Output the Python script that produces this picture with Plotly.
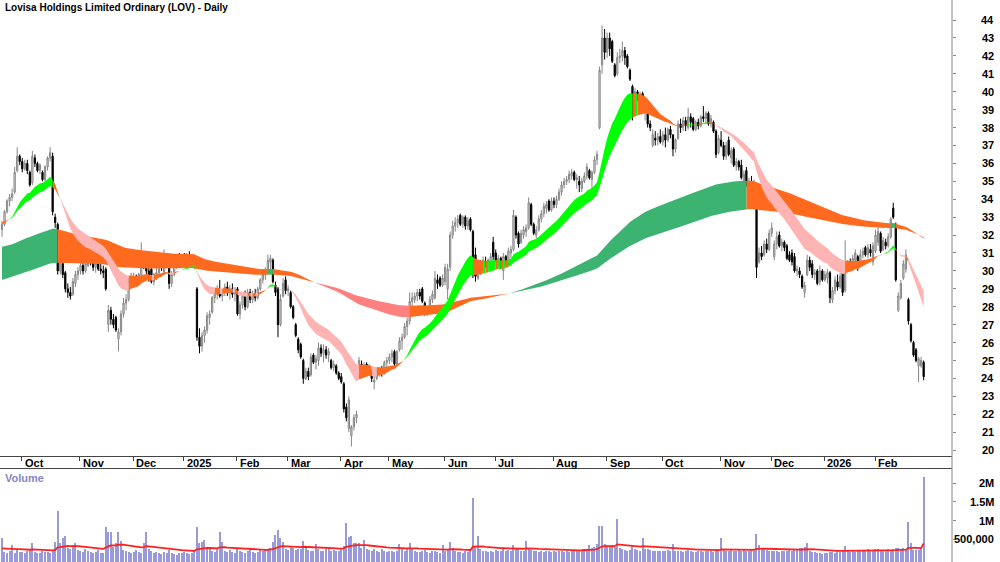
import numpy as np
import pandas as pd
import plotly.graph_objects as go

TITLE = "Lovisa Holdings Limited Ordinary (LOV) - Daily"

HOLIDAYS = ["2024-12-25", "2024-12-26", "2025-01-01", "2025-01-27", "2025-04-18",
            "2025-04-21", "2025-04-25", "2025-06-09", "2025-12-25", "2025-12-26",
            "2026-01-01", "2026-01-26"]
dates = pd.bdate_range("2024-09-19", "2026-02-27")
dates = dates[~dates.isin(pd.to_datetime(HOLIDAYS))]

opens = [
    32.3, 32.6, 33.3, 33.9, 34.1, 34.4, 35.6, 36.4, 36.1, 35.7,
    36.0, 35.5, 34.9, 36.3, 36.0, 35.6, 35.5, 35.1, 35.8, 36.3,
    36.4, 33.0, 32.6, 30.0, 30.4, 29.9, 29.0, 28.8, 28.7, 29.3,
    29.8, 30.0, 30.3, 30.0, 30.3, 30.8, 30.5, 30.2, 30.4, 30.1,
    30.0, 30.1, 27.0, 27.8, 27.3, 27.4, 26.2, 26.6, 27.6, 28.2,
    28.4, 29.4, 29.5, 29.6, 29.3, 29.8, 30.6, 30.5, 30.0, 30.1,
    29.4, 29.8, 29.9, 30.3, 29.9, 30.8, 30.4, 29.3, 29.8, 30.3,
    30.7, 30.5, 30.8, 30.6, 30.9, 30.6, 30.4, 29.0, 26.3, 25.8,
    26.4, 26.7, 27.4, 27.7, 28.5, 28.7, 28.9, 28.6, 28.9, 29.1,
    28.8, 29.0, 28.7, 29.0, 27.6, 28.1, 28.6, 28.0, 28.8, 28.4,
    28.7, 28.5, 29.0, 29.5, 29.8, 29.9, 30.5, 30.6, 29.2, 29.0,
    27.0, 28.6, 29.5, 28.9, 28.8, 28.0, 27.0, 26.2, 25.9, 25.0,
    24.0, 24.4, 24.2, 25.3, 24.9, 25.0, 25.7, 25.4, 25.6, 25.3,
    25.0, 24.6, 24.7, 24.3, 24.1, 23.7, 22.4, 21.2, 20.8, 21.3,
    21.8, 24.3, 24.8, 24.5, 24.8, 24.4, 24.3, 23.8, 24.0, 24.3,
    24.5, 24.3, 24.9, 25.0, 25.2, 25.5, 24.8, 25.6, 26.1, 26.3,
    26.9, 27.2, 28.3, 28.4, 28.6, 28.8, 29.0, 28.2, 27.6, 28.0,
    28.4, 28.5, 29.5, 29.6, 29.2, 29.4, 29.0, 30.2, 32.0, 32.5,
    32.7, 33.1, 32.6, 33.0, 32.5, 32.9, 32.2, 30.9, 29.6, 30.2,
    30.1, 30.5, 30.4, 30.5, 31.6, 31.0, 30.6, 30.7, 30.0, 30.8,
    30.4, 31.0, 31.2, 33.0, 32.1, 31.6, 32.0, 32.2, 32.4, 33.7,
    32.6, 32.0, 32.3, 32.9, 33.2, 33.5, 33.9, 33.4, 33.9, 33.7,
    34.0, 34.4, 34.8, 35.0, 35.1, 35.3, 35.5, 35.1, 35.0, 34.6,
    35.0, 35.3, 35.6, 35.1, 35.5, 36.2, 38.0, 41.5, 43.0, 42.2,
    43.0, 42.8, 41.5, 41.0, 41.9, 42.0, 42.3, 42.0, 41.2, 40.3,
    39.8, 40.0, 39.7, 39.9, 39.0, 39.0, 38.2, 37.0, 37.4, 37.3,
    37.5, 37.2, 37.6, 37.3, 37.9, 37.6, 36.8, 37.4, 38.2, 38.0,
    38.4, 38.0, 38.6, 38.5, 37.9, 38.3, 38.1, 38.6, 38.5, 38.8,
    38.2, 38.3, 37.8, 36.6, 37.3, 37.0, 36.4, 37.3, 36.3, 36.8,
    35.9, 36.1, 35.9, 35.0, 35.6, 34.6, 34.9, 34.3, 34.0, 30.5,
    31.0, 30.9, 31.5, 31.2, 32.1, 30.8, 31.5, 32.0, 31.4, 31.6,
    31.4, 30.9, 31.0, 30.8, 30.0, 30.0, 29.7, 28.8, 29.8, 30.6,
    30.4, 29.8, 30.0, 29.4, 30.0, 29.5, 29.6, 29.9, 28.4, 28.9,
    29.4, 29.1, 29.9, 28.9, 30.3, 30.5, 30.1, 30.6, 30.8, 30.3,
    30.9, 31.3, 30.9, 31.2, 30.5, 31.1, 31.6, 32.1, 31.2, 31.6,
    31.4, 31.9, 33.5, 32.6, 27.8, 28.5, 29.6, 30.1, 28.4, 27.0,
    26.0, 25.6, 24.7, 24.7, 24.9,
]
highs = [
    32.8, 33.4, 34.0, 34.3, 34.6, 35.8, 36.9, 36.5, 36.3, 36.2,
    36.2, 35.6, 36.7, 36.5, 36.1, 36.0, 35.6, 35.9, 36.4, 36.9,
    36.6, 33.2, 32.7, 30.9, 30.6, 30.0, 29.3, 29.1, 29.6, 30.0,
    30.2, 30.5, 30.5, 30.6, 31.0, 31.1, 30.9, 30.6, 30.7, 30.4,
    30.3, 30.2, 28.1, 28.0, 27.6, 27.5, 26.8, 27.8, 28.5, 28.7,
    29.6, 29.9, 29.9, 29.8, 29.9, 31.6, 30.9, 30.8, 30.3, 30.3,
    29.9, 30.2, 30.6, 30.7, 31.2, 31.0, 30.5, 30.0, 30.5, 30.9,
    31.0, 30.9, 31.0, 31.0, 31.1, 30.9, 30.8, 29.1, 26.8, 26.6,
    26.9, 27.7, 27.8, 28.6, 28.9, 29.2, 29.5, 29.0, 29.3, 29.4,
    29.2, 29.3, 29.1, 29.1, 28.3, 28.8, 28.9, 29.0, 29.0, 28.9,
    29.0, 29.1, 29.6, 30.0, 30.2, 30.9, 30.9, 30.7, 29.4, 29.1,
    28.7, 29.6, 29.7, 29.2, 28.9, 28.1, 27.1, 26.3, 26.0, 25.1,
    24.6, 24.6, 25.4, 25.4, 25.3, 26.0, 25.9, 25.9, 25.8, 25.7,
    25.1, 25.0, 24.8, 24.4, 24.3, 23.8, 22.6, 23.0, 21.4, 22.0,
    22.2, 25.2, 25.0, 24.9, 24.9, 24.8, 24.5, 24.2, 24.6, 24.6,
    24.7, 25.0, 25.2, 25.4, 25.6, 25.6, 25.6, 26.3, 26.5, 27.1,
    27.4, 28.8, 28.8, 28.8, 29.0, 29.0, 29.1, 28.3, 28.0, 28.6,
    28.9, 30.0, 29.8, 29.7, 29.8, 30.4, 30.4, 32.2, 32.8, 33.0,
    33.1, 33.2, 33.1, 33.1, 33.0, 33.0, 32.3, 31.3, 30.5, 30.6,
    30.8, 30.8, 30.7, 31.0, 31.9, 31.2, 30.9, 30.8, 31.0, 30.9,
    31.3, 31.4, 33.4, 33.1, 32.2, 32.3, 32.5, 32.6, 34.1, 33.8,
    32.7, 32.5, 33.1, 33.4, 33.8, 33.9, 34.0, 34.1, 34.1, 34.2,
    34.6, 35.0, 35.2, 35.3, 35.6, 35.7, 35.6, 35.4, 35.3, 35.2,
    35.5, 36.0, 35.7, 35.6, 36.4, 36.7, 41.4, 43.7, 43.5, 43.3,
    43.3, 42.9, 41.6, 42.2, 42.4, 42.8, 42.5, 42.1, 41.3, 40.4,
    40.2, 40.1, 40.0, 40.0, 39.4, 39.1, 38.4, 37.9, 37.8, 37.7,
    37.9, 37.8, 38.0, 38.0, 38.1, 37.6, 37.4, 38.4, 38.5, 38.6,
    38.6, 39.1, 38.8, 38.6, 38.4, 38.5, 38.7, 39.2, 38.9, 38.9,
    38.7, 38.4, 37.9, 37.6, 37.8, 37.2, 37.2, 37.5, 36.9, 36.9,
    36.3, 36.2, 36.2, 35.6, 35.8, 35.2, 35.3, 35.1, 34.1, 31.3,
    31.4, 31.7, 31.8, 32.3, 32.7, 31.7, 32.2, 32.2, 31.8, 31.7,
    31.5, 31.1, 31.2, 31.0, 30.3, 30.2, 29.8, 29.4, 30.9, 30.8,
    30.6, 30.1, 30.1, 30.3, 30.1, 30.0, 30.1, 30.0, 29.1, 29.7,
    29.8, 29.9, 30.0, 31.7, 30.6, 30.7, 30.9, 31.2, 30.9, 31.2,
    31.3, 31.4, 31.5, 31.5, 31.6, 32.3, 32.5, 32.2, 31.9, 31.8,
    32.1, 33.0, 33.8, 32.7, 28.8, 29.5, 30.6, 31.2, 28.5, 27.1,
    26.1, 25.7, 25.2, 25.2, 25.0,
]
lows = [
    31.9, 32.5, 33.2, 33.6, 33.9, 34.3, 35.5, 35.9, 35.5, 35.6,
    35.4, 34.7, 34.8, 35.8, 35.5, 35.4, 35.0, 35.0, 35.6, 36.1,
    33.1, 32.4, 29.8, 29.8, 29.6, 28.8, 28.5, 28.4, 28.6, 29.1,
    29.5, 29.8, 29.8, 29.9, 30.2, 30.3, 30.0, 29.9, 30.0, 29.8,
    29.6, 28.9, 26.6, 27.0, 26.8, 26.6, 25.5, 26.4, 27.4, 27.8,
    28.3, 29.1, 29.2, 29.1, 29.2, 29.7, 30.1, 29.8, 29.4, 29.3,
    29.2, 29.5, 29.7, 30.0, 29.8, 30.3, 29.0, 29.1, 29.7, 30.1,
    30.3, 30.2, 30.4, 30.4, 30.5, 30.2, 30.1, 26.1, 25.4, 25.5,
    26.0, 26.5, 27.0, 27.6, 28.2, 28.4, 28.5, 28.3, 28.6, 28.6,
    28.4, 28.5, 28.3, 27.5, 27.3, 27.9, 27.8, 27.9, 28.2, 28.2,
    28.3, 28.4, 28.9, 29.3, 29.5, 29.8, 30.1, 29.3, 28.6, 26.3,
    26.9, 28.5, 28.7, 28.6, 27.9, 27.3, 26.3, 25.4, 25.1, 23.7,
    23.9, 23.9, 24.1, 24.8, 24.5, 24.7, 25.2, 24.9, 25.1, 24.9,
    24.5, 24.4, 24.2, 23.9, 23.7, 22.1, 21.6, 21.0, 20.2, 21.1,
    21.5, 24.1, 24.2, 24.3, 24.3, 24.2, 23.8, 23.4, 23.9, 24.1,
    24.1, 24.2, 24.6, 24.8, 24.9, 24.6, 24.7, 25.5, 25.6, 26.2,
    26.4, 27.0, 28.0, 28.2, 28.3, 28.4, 28.2, 27.5, 27.5, 27.9,
    28.2, 28.4, 29.0, 29.1, 29.1, 29.2, 28.4, 30.0, 31.8, 32.2,
    32.4, 32.5, 32.4, 32.3, 32.3, 32.2, 29.6, 29.4, 29.5, 29.8,
    30.0, 30.2, 30.2, 30.2, 30.6, 30.5, 30.2, 30.1, 29.5, 30.3,
    30.3, 30.7, 31.1, 31.8, 31.3, 31.5, 31.8, 31.9, 32.3, 32.5,
    32.0, 31.8, 32.2, 32.7, 33.0, 33.2, 33.3, 33.3, 33.5, 33.5,
    33.9, 34.2, 34.6, 34.8, 34.9, 35.1, 35.0, 34.6, 34.4, 34.4,
    34.9, 35.1, 35.1, 34.3, 35.4, 35.9, 37.9, 41.0, 41.8, 41.9,
    42.0, 41.6, 40.8, 40.9, 41.6, 41.7, 41.5, 41.3, 40.6, 38.4,
    39.5, 39.5, 39.4, 38.8, 38.4, 38.0, 37.8, 36.9, 37.0, 37.0,
    37.1, 37.0, 36.9, 37.2, 37.4, 36.4, 36.6, 37.3, 37.7, 37.8,
    37.8, 37.9, 38.0, 37.8, 37.8, 37.9, 38.0, 38.3, 38.2, 38.1,
    38.0, 37.7, 36.3, 36.5, 36.9, 36.2, 36.2, 36.4, 36.0, 35.8,
    35.6, 35.6, 35.1, 34.2, 34.7, 34.0, 34.1, 34.0, 29.6, 30.4,
    30.6, 30.8, 31.0, 31.1, 31.9, 30.6, 31.2, 31.3, 31.1, 31.1,
    30.6, 30.5, 30.3, 29.9, 29.7, 29.6, 29.0, 28.5, 29.7, 30.0,
    29.6, 29.5, 29.2, 29.2, 29.4, 29.4, 29.3, 28.2, 28.2, 28.7,
    28.9, 29.0, 28.6, 28.8, 30.0, 30.0, 30.0, 30.5, 30.0, 30.2,
    30.7, 30.8, 30.7, 30.8, 30.3, 31.0, 31.4, 31.0, 31.1, 31.2,
    31.3, 31.8, 32.9, 29.4, 27.7, 28.4, 29.5, 29.9, 27.0, 26.0,
    25.2, 24.9, 23.8, 24.6, 23.9,
]
closes = [
    32.6, 33.3, 33.9, 34.1, 34.3, 35.5, 36.4, 36.1, 35.7, 36.0,
    35.6, 34.8, 36.4, 36.0, 35.6, 35.9, 35.1, 35.8, 36.3, 36.6,
    33.3, 32.7, 30.0, 30.6, 29.8, 29.0, 28.8, 28.6, 29.4, 29.8,
    30.0, 30.3, 30.0, 30.4, 30.8, 30.5, 30.2, 30.4, 30.1, 30.0,
    29.9, 29.0, 27.8, 27.3, 27.0, 26.7, 26.6, 27.6, 28.2, 28.4,
    29.4, 29.6, 29.6, 29.3, 29.8, 30.6, 30.3, 30.0, 29.6, 29.4,
    29.8, 29.9, 30.4, 30.2, 30.9, 30.5, 29.3, 29.8, 30.3, 30.7,
    30.5, 30.8, 30.6, 30.9, 30.6, 30.4, 30.6, 26.3, 25.8, 26.4,
    26.7, 27.5, 27.6, 28.5, 28.7, 28.9, 28.6, 28.9, 29.1, 28.8,
    29.0, 28.7, 28.9, 27.6, 28.1, 28.6, 28.0, 28.8, 28.4, 28.7,
    28.5, 29.0, 29.5, 29.8, 29.9, 30.6, 30.7, 29.4, 28.8, 27.0,
    28.4, 29.3, 28.9, 29.0, 28.0, 27.4, 26.4, 25.6, 25.2, 24.0,
    24.4, 24.1, 25.2, 24.9, 25.1, 25.7, 25.4, 25.6, 25.3, 25.5,
    24.6, 24.8, 24.3, 24.0, 23.8, 22.3, 21.8, 22.8, 21.3, 21.8,
    22.0, 25.0, 24.5, 24.7, 24.4, 24.6, 24.0, 23.9, 24.4, 24.5,
    24.3, 24.9, 25.0, 25.2, 25.4, 24.8, 25.5, 26.1, 26.3, 26.9,
    27.2, 28.3, 28.5, 28.6, 28.8, 28.6, 28.3, 27.6, 27.9, 28.4,
    28.7, 29.6, 29.3, 29.2, 29.6, 30.2, 30.1, 32.0, 32.5, 32.7,
    32.9, 32.6, 33.0, 32.5, 32.8, 32.3, 29.9, 29.7, 30.3, 30.0,
    30.6, 30.4, 30.6, 30.8, 30.8, 30.6, 30.7, 30.2, 30.8, 30.4,
    31.1, 31.2, 33.1, 32.0, 31.5, 32.1, 32.3, 32.4, 33.8, 32.6,
    32.1, 32.3, 32.9, 33.2, 33.6, 33.7, 33.4, 33.9, 33.7, 34.0,
    34.4, 34.8, 35.0, 35.1, 35.4, 35.5, 35.1, 35.2, 34.8, 35.0,
    35.3, 35.8, 35.2, 35.5, 36.2, 36.5, 41.2, 43.0, 42.2, 43.0,
    42.4, 41.7, 40.9, 41.9, 42.0, 42.3, 41.9, 41.4, 40.7, 39.8,
    40.0, 39.7, 39.8, 39.0, 39.2, 38.2, 38.0, 37.6, 37.3, 37.5,
    37.2, 37.6, 37.3, 37.9, 37.6, 36.8, 37.3, 38.2, 38.0, 38.4,
    38.1, 38.6, 38.3, 37.9, 38.3, 38.1, 38.6, 38.5, 38.8, 38.2,
    38.5, 37.8, 36.5, 37.4, 37.0, 36.4, 37.0, 36.5, 36.7, 35.9,
    36.1, 35.8, 35.2, 35.4, 34.8, 35.0, 34.3, 34.9, 30.2, 31.0,
    30.8, 31.5, 31.2, 32.1, 32.4, 31.5, 31.9, 31.4, 31.6, 31.3,
    30.7, 30.6, 30.5, 30.0, 30.1, 29.8, 29.1, 29.2, 30.6, 30.2,
    29.8, 29.9, 29.3, 30.0, 29.5, 29.8, 29.9, 28.5, 28.9, 29.5,
    29.1, 29.7, 28.8, 30.3, 30.4, 30.1, 30.7, 31.0, 30.2, 30.9,
    31.1, 30.9, 31.3, 31.0, 31.4, 32.0, 32.2, 31.1, 31.7, 31.4,
    31.9, 32.9, 33.0, 29.5, 28.6, 29.3, 30.4, 30.9, 27.2, 26.1,
    25.3, 25.0, 25.1, 25.0, 24.1,
]
volume_k = [
    520, 150, 120, 180, 340, 130, 200, 160,
    140, 120, 170, 220, 390, 150, 110, 130, 180, 140, 160, 120, 200, 420, 1260, 380, 520, 580, 260, 220, 350, 400, 200,
    190, 150, 220, 170, 140, 120, 160, 200, 130, 110, 830, 700, 700, 290, 380, 680, 440, 210, 180, 150, 130,
    140, 200, 160, 120, 390, 680, 220, 170, 120, 140, 110, 90, 160, 130, 200, 120, 100, 80, 110, 130,
    150, 110, 90, 130, 170, 830, 390, 420, 480, 260, 220, 190, 150, 270, 680, 420, 170, 140, 200, 160, 120,
    260, 190, 150, 130, 180, 200, 140, 120, 160, 200, 170, 220, 240, 260, 420, 600, 740, 540, 420, 220,
    200, 300, 260, 210, 240, 220, 450, 260, 210, 190, 170, 370, 240, 190, 170, 220, 260, 180, 210, 190, 170,
    260, 300, 920, 560, 580, 390, 380, 390, 260, 480, 220, 200, 170, 240, 190, 160, 220, 180, 150,
    190, 170, 150, 180, 370, 220, 190, 260, 400, 220, 180, 160, 140, 190, 210, 150, 130, 170, 190, 150, 120, 340,
    170, 220, 420, 260, 190, 160, 140, 130, 170, 150, 180, 1600, 300, 580, 220, 190, 170, 150, 190, 140,
    210, 190, 170, 220, 190, 200, 170, 350, 260, 220, 190, 170, 440, 260, 210, 190, 170, 150, 180, 160, 190, 170, 150,
    170, 160, 190, 170, 150, 180, 160, 190, 170, 190, 210, 200, 220, 240, 330, 260, 280, 370, 850, 850, 370,
    320, 300, 330, 280, 1040, 260, 220, 200, 190, 210, 330, 220, 200, 190, 530, 240, 220, 200, 190, 170, 190, 180,
    190, 170, 200, 190, 360, 190, 180, 170, 160, 190, 210, 180, 160, 150, 170, 180, 160, 190, 170, 180, 150, 220, 190,
    520, 210, 190, 180, 200, 190, 180, 210, 190, 220, 170, 190, 200, 180, 640, 330, 220, 260, 200, 190,
    190, 170, 190, 160, 180, 170, 190, 210, 190, 200, 220, 250, 260, 290, 390, 180, 150, 140, 120, 110, 100,
    120, 130, 150, 140, 130, 170, 160, 180, 300, 170, 150, 190, 160, 180, 200, 190, 170, 220, 190, 210,
    240, 230, 190, 210, 190, 220, 200, 240, 250, 260, 240, 250, 220, 950, 400, 200, 210, 200, 240, 2180,
]

PRICE_TICKS = list(range(20, 45))
VOL_TICKS = [500000, 1000000, 1500000, 2000000]
VOL_TICK_TEXT = ["500,000", "1M", "1.5M", "2M"]

# ribbon settings (EMA periods and their values at the left edge of the chart)
SHORT_FAST, SHORT_SLOW = 20, 32
LONG_FAST, LONG_SLOW = 140, 230
SEED_SHORT_FAST, SEED_SHORT_SLOW = 32.6, 32.72
SEED_LONG_FAST, SEED_LONG_SLOW = 31.35, 29.5

n = len(closes)
x = np.arange(n)
volume = np.array(volume_k) * 1000.0
VOL_MIN, VOL_MAX = -120000, 2390000


def ema(vals, period, seed):
    a = 2.0 / (period + 1)
    e = seed
    out = [e]
    for v in vals[1:]:
        e = e + a * (v - e)
        out.append(e)
    return np.array(out)


def ribbon(fast, slow, cols, name):
    states = []
    for i in range(n):
        j = max(i, 1)
        rising = fast[j] >= fast[j - 1]
        if fast[i] > slow[i] and rising:
            states.append("up")
        elif fast[i] < slow[i] and not rising:
            states.append("down")
        else:
            states.append("mid")
    polys = {"up": ([], []), "mid": ([], []), "down": ([], [])}
    i = 0
    while i < n:
        k = i
        while k + 1 < n and states[k + 1] == states[i]:
            k += 1
        e = min(k + 1, n - 1)
        idx = list(range(i, e + 1))
        px = idx + idx[::-1]
        py = [fast[t] for t in idx] + [slow[t] for t in idx[::-1]]
        xs, ys = polys[states[i]]
        xs.extend(px + [None])
        ys.extend(py + [None])
        i = k + 1
    traces = []
    for st in ["mid", "down", "up"]:
        xs, ys = polys[st]
        if not xs:
            continue
        traces.append(go.Scatter(x=xs, y=ys, mode="lines", fill="toself",
                                 fillcolor=cols[st], line=dict(width=0, color=cols[st]),
                                 hoverinfo="skip", showlegend=False,
                                 xaxis="x", yaxis="y", name=name + st))
    return traces


cl = np.array(closes)
sf = ema(cl, SHORT_FAST, SEED_SHORT_FAST)
ss = ema(cl, SHORT_SLOW, SEED_SHORT_SLOW)
lf = ema(cl, LONG_FAST, SEED_LONG_FAST)
ls = ema(cl, LONG_SLOW, SEED_LONG_SLOW)

vol_ma = ema(volume, 30, 250000.0)

fig = go.Figure()
for t in ribbon(lf, ls, {"up": "#3cb371", "mid": "#ff6a1f", "down": "#ff8080"}, "long"):
    fig.add_trace(t)
for t in ribbon(sf, ss, {"up": "#00ff00", "mid": "#ff6a1f", "down": "#ffb4b4"}, "short"):
    fig.add_trace(t)

fig.add_trace(go.Candlestick(
    x=x, open=opens, high=highs, low=lows, close=closes,
    increasing=dict(line=dict(color="#858585", width=1), fillcolor="#e2e2e2"),
    decreasing=dict(line=dict(color="#000000", width=1), fillcolor="#000000"),
    whiskerwidth=0, hoverinfo="skip", showlegend=False, xaxis="x", yaxis="y"))

fig.add_trace(go.Bar(x=x, y=volume - VOL_MIN, base=VOL_MIN,
                     marker=dict(color="#9a9ad8", line=dict(width=0)),
                     width=0.45, showlegend=False, hoverinfo="skip", xaxis="x2", yaxis="y2"))
fig.add_trace(go.Scatter(x=x, y=vol_ma, mode="lines", line=dict(color="#ff2020", width=1.8),
                         showlegend=False, hoverinfo="skip", xaxis="x2", yaxis="y2"))

# month ticks
month_idx = [i for i in range(1, n) if dates[i].month != dates[i - 1].month]
month_lab = [str(dates[i].year) if dates[i].month == 1 else dates[i].strftime("%b") for i in month_idx]
tickpos = [i - 0.2 for i in month_idx]

H = 562.0
price_bottom = 1 - 456 / H
vol_top = 1 - 469 / H
FONT = "Liberation Sans, Arial, sans-serif"

annotations = []
for tp, lab in zip(tickpos, month_lab):
    annotations.append(dict(x=tp, xref="x", y=1 - 463 / H, yref="paper", text=lab,
                            xanchor="left", yanchor="middle", xshift=1, showarrow=False,
                            font=dict(family=FONT, size=11, color="#000000", weight="bold")))
for p in PRICE_TICKS:
    annotations.append(dict(x=1, xref="paper", y=p, yref="y", text=str(p), xanchor="right",
                            yanchor="middle", xshift=44, showarrow=False,
                            font=dict(family=FONT, size=11, color="#000000", weight="bold")))
for v, t in zip(VOL_TICKS, VOL_TICK_TEXT):
    annotations.append(dict(x=1, xref="paper", y=v, yref="y2", text=t, xanchor="right",
                            yanchor="middle", xshift=44, showarrow=False,
                            font=dict(family=FONT, size=11, color="#000000", weight="bold")))
annotations.append(dict(x=0, xref="paper", y=1 - 8 / H, yref="paper", text=TITLE,
                        xanchor="left", yanchor="middle", xshift=3, showarrow=False,
                        font=dict(family=FONT, size=10, color="#000000", weight="bold")))
annotations.append(dict(x=0, xref="paper", y=1 - 478 / H, yref="paper", text="Volume",
                        xanchor="left", yanchor="middle", xshift=3, showarrow=False,
                        font=dict(family=FONT, size=11, color="#8585c8", weight="bold")))

xr = [-0.79, 375.2]
fig.update_layout(
    width=1000, height=562,
    margin=dict(l=0, r=48, t=0, b=0),
    paper_bgcolor="white", plot_bgcolor="white",
    showlegend=False,
    bargap=0,
    xaxis=dict(domain=[0, 1], anchor="y", range=xr, showgrid=False, zeroline=False,
               showline=True, linecolor="#444444", linewidth=1,
               ticks="outside", tickvals=tickpos, ticklen=4, tickcolor="#444444",
               showticklabels=False, rangeslider=dict(visible=False)),
    yaxis=dict(domain=[price_bottom, 1], anchor="x", side="right", range=[19.67, 45.12],
               showgrid=False, zeroline=False, showline=False,
               ticks="outside", tickvals=PRICE_TICKS, ticklen=3, tickcolor="#888888",
               showticklabels=False),
    xaxis2=dict(domain=[0, 1], anchor="y2", matches="x", range=xr, side="top",
                showgrid=False, zeroline=False, showline=True, linecolor="#444444",
                linewidth=1, ticks="", showticklabels=False),
    yaxis2=dict(domain=[0, vol_top], anchor="x2", side="right", range=[VOL_MIN, VOL_MAX],
                showgrid=False, zeroline=False, showline=False,
                ticks="outside", tickvals=VOL_TICKS, ticklen=3, tickcolor="#888888",
                showticklabels=False),
    annotations=annotations,
    shapes=[dict(type="line", xref="paper", yref="paper", x0=1, x1=1, y0=0, y1=1,
                 line=dict(color="#888888", width=1))],
)

fig.write_html("out.html")
